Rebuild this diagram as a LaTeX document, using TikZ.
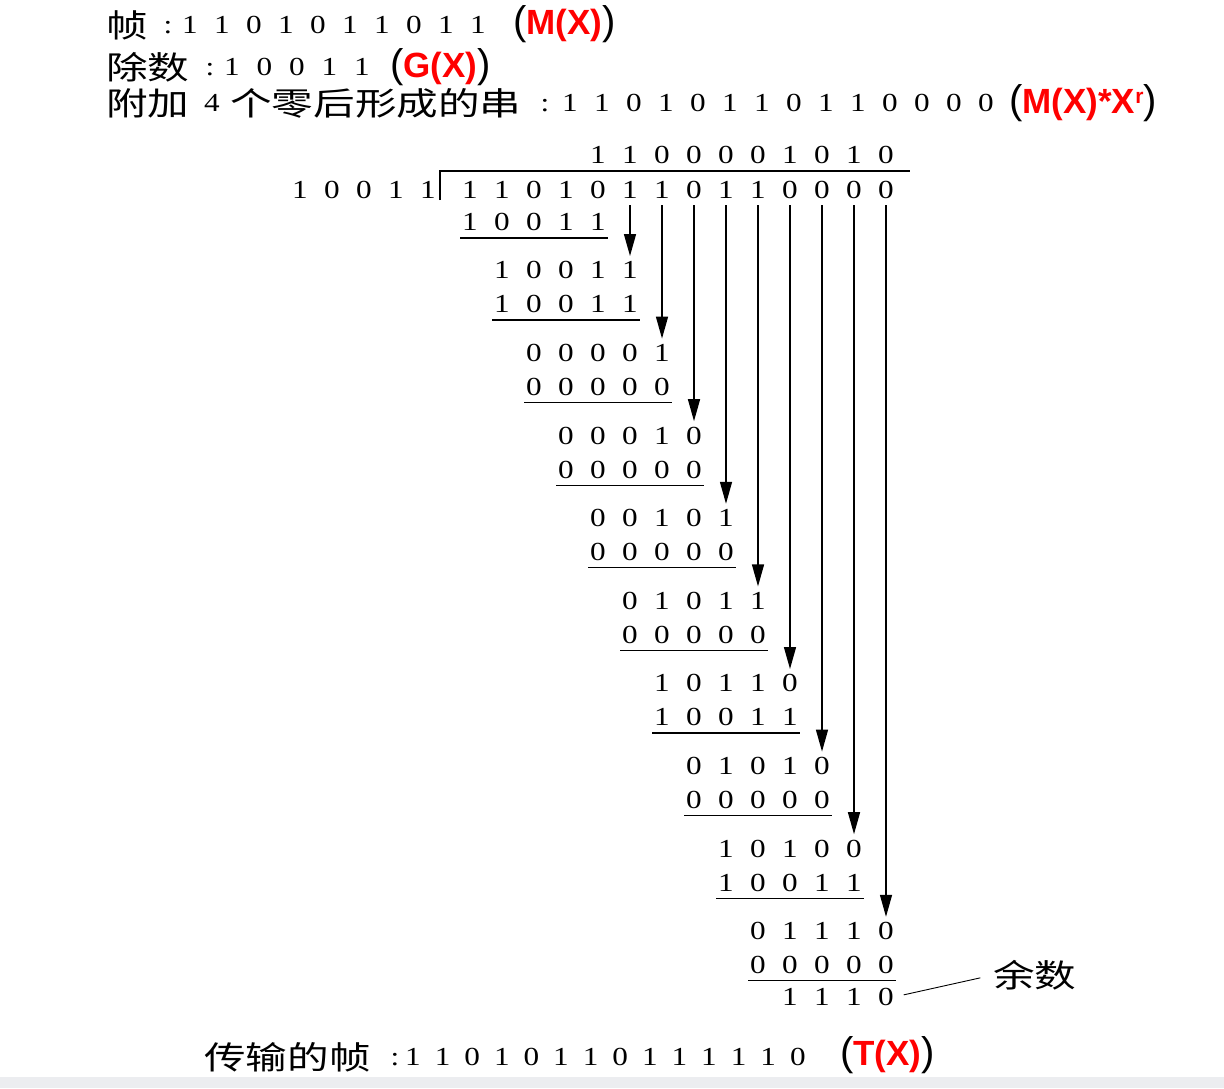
\documentclass[tikz,border=0pt]{standalone}
\usepackage{fontspec}
\setmainfont{Liberation Serif}[FakeStretch=1.2]
\newfontfamily\cjk{Noto Sans CJK SC}[FakeStretch=1.3]
\newfontfamily\lsans{Liberation Sans}
\usetikzlibrary{arrows.meta}
\definecolor{bandgray}{RGB}{236,237,240}
\newcommand\lblp{\lsans\fontsize{40}{40}\selectfont}
\newcommand\lblr{\lsans\bfseries\fontsize{35}{35}\selectfont\color{red}}
\newcommand\drow[5]{\foreach \d [count=\i from 0] in {#5} {\node[dig] (#1-\i) at ({#2+#4*\i},#3) {\d};}}
\begin{document}
\begin{tikzpicture}[x=1pt,y=-1pt,
  dig/.style={inner sep=0pt, text height=17.6pt, text depth=0pt, font=\fontsize{26}{26}\selectfont},
  arr/.style={-{Triangle[length=22pt,width=12pt]}, line width=1.4pt, shorten <=6pt, shorten >=5pt},
  rulel/.style={line width=1.3pt},
  ch/.style={inner sep=0pt, anchor=west, font=\cjk\fontsize{32}{32}\selectfont},
  lbl/.style={inner sep=0pt, anchor=west}
]
\useasboundingbox (0,0) rectangle (1224,1088);
\fill[bandgray] (0,1077) rectangle (1224,1088);

% header line 1
\node[ch] (h1) at (106,25) {帧};
\node[dig] (h1c) at (168,25) {:};
\drow{h1d}{190}{25}{32}{1,1,0,1,0,1,1,0,1,1}
\node[lbl] (h1l) at (513,24) {{\lblp(}{\lblr M(X)}{\lblp)}};

% header line 2
\node[ch] (h2) at (106,67) {除数};
\node[dig] (h2c) at (210,67) {:};
\drow{h2d}{232}{67}{32.5}{1,0,0,1,1}
\node[lbl] (h2l) at (390,67) {{\lblp(}{\lblr G(X)}{\lblp)}};

% header line 3
\node[ch] (h3a) at (106,103) {附加};
\node[dig] (h3n) at (212,103) {4};
\node[ch] (h3b) at (230,103) {个零后形成的串};
\node[dig] (h3c) at (545,103) {:};
\drow{h3d}{570}{103}{32}{1,1,0,1,0,1,1,0,1,1,0,0,0,0}
\node[lbl] (h3l) at (1009,103) {{\lblp(}{\lblr M(X)*X\raisebox{10pt}{\fontsize{21}{21}\selectfont r}}{\lblp)}};

% division
\drow{q}{598}{155}{32}{1,1,0,0,0,0,1,0,1,0}
\drow{g}{300}{190}{32}{1,0,0,1,1}
\drow{dv}{470}{190}{32}{1,1,0,1,0,1,1,0,1,1,0,0,0,0}
\draw[rulel] (440,200) -- (440,171) -- (910,171);

\drow{r0}{470}{222}{32}{1,0,0,1,1}
\draw[rulel] ([shift={(-10,7)}]r0-0.south) -- ([shift={(10,7)}]r0-4.south);

\drow{pA1}{502}{270}{32}{1,0,0,1,1}
\drow{pB1}{502}{304}{32}{1,0,0,1,1}
\drow{pA2}{534}{352.6}{32}{0,0,0,0,1}
\drow{pB2}{534}{386.6}{32}{0,0,0,0,0}
\drow{pA3}{566}{435.2}{32}{0,0,0,1,0}
\drow{pB3}{566}{469.2}{32}{0,0,0,0,0}
\drow{pA4}{598}{517.8}{32}{0,0,1,0,1}
\drow{pB4}{598}{551.8}{32}{0,0,0,0,0}
\drow{pA5}{630}{600.4}{32}{0,1,0,1,1}
\drow{pB5}{630}{634.4}{32}{0,0,0,0,0}
\drow{pA6}{662}{683}{32}{1,0,1,1,0}
\drow{pB6}{662}{717}{32}{1,0,0,1,1}
\drow{pA7}{694}{765.6}{32}{0,1,0,1,0}
\drow{pB7}{694}{799.6}{32}{0,0,0,0,0}
\drow{pA8}{726}{848.2}{32}{1,0,1,0,0}
\drow{pB8}{726}{882.2}{32}{1,0,0,1,1}
\drow{pA9}{758}{930.8}{32}{0,1,1,1,0}
\drow{pB9}{758}{964.8}{32}{0,0,0,0,0}
\drow{fin}{790}{997}{32}{1,1,1,0}

\foreach \k in {1,...,9} {
  \draw[rulel] ([shift={(-10,7)}]pB\k-0.south) -- ([shift={(10,7)}]pB\k-4.south);
}
\foreach \k [evaluate=\k as \c using int(\k+4)] in {1,...,9} {
  \draw[arr] (dv-\c) -- (pA\k-4);
}

% remainder label
\node[ch] (yu) at (993,975) {余数};
\draw[line width=0.9pt, shorten <=10pt, shorten >=13pt] (fin-3.east) -- (yu.west);

% transmitted frame
\node[ch] (t1) at (204,1057) {传输的帧};
\node[dig] (t1c) at (395,1057) {:};
\drow{td}{413}{1057}{29.6}{1,1,0,1,0,1,1,0,1,1,1,1,1,0}
\node[lbl] (tl) at (840,1055) {{\lblp(}{\lblr T(X)}{\lblp)}};
\end{tikzpicture}
\end{document}
